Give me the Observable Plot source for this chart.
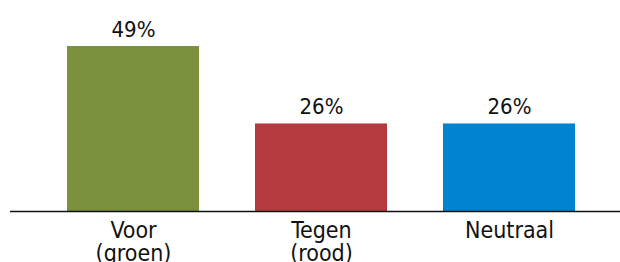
<!DOCTYPE html>
<html><head><meta charset="utf-8">
<script src="https://cdn.jsdelivr.net/npm/d3@7"></script>
<script src="https://cdn.jsdelivr.net/npm/@observablehq/plot@0.6"></script>
<style>body{margin:0;background:#fff;overflow:hidden}</style>
</head><body><div id="chart"></div>
<script>
const categories = ["Voor\n(groen)", "Tegen\n(rood)", "Neutraal"];
const values = [49, 26, 26];
const colors = ["#7b913e", "#b53a3f", "#0084cf"];
const data = categories.map((c, i) => ({cat: c, value: values[i], color: colors[i]}));
const font = "'DejaVu Sans Condensed', 'DejaVu Sans', sans-serif";
const chart = Plot.plot({
  width: 620, height: 262,
  marginLeft: 10, marginRight: 0, marginTop: 0, marginBottom: 51,
  style: {fontFamily: font, fontSize: "21px", color: "#111", background: "#fff"},
  x: {domain: categories, range: [66, 575], paddingInner: 0.3, paddingOuter: 0, label: null},
  y: {domain: [0, 49], range: [211, 46], axis: null},
  marks: [
    Plot.barY(data, {x: "cat", y: "value", fill: "color", insetLeft: 0, insetRight: 0}),
    Plot.ruleY([0], {stroke: "#111", strokeWidth: 1.5}),
    Plot.text(data, {x: "cat", y: "value", text: d => d.value + "%", lineAnchor: "bottom", dy: -10, fontSize: 22, fill: "#111"}),
    Plot.axisX({tickSize: 0, tickPadding: 10, fontSize: 23, lineHeight: 1.0, label: null, fill: "#111"})
  ]
});
document.getElementById("chart").append(chart);
</script></body></html>
